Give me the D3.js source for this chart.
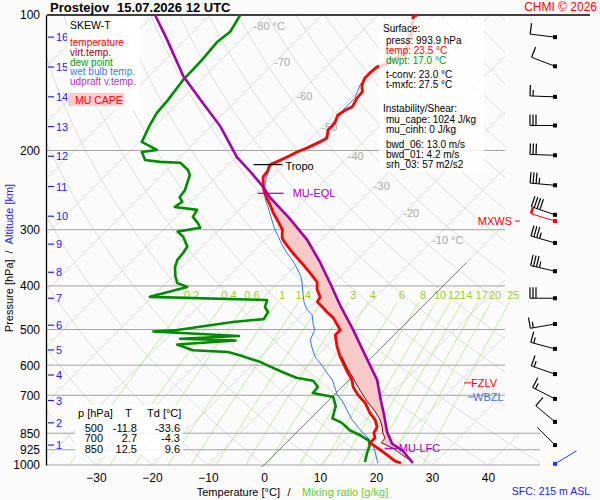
<!DOCTYPE html>
<html>
<head>
<meta charset="utf-8">
<script src="https://cdn.jsdelivr.net/npm/d3@7"></script>
<style>
  body { margin: 0; background: #fbfbfb; }
  svg { font-family: "Liberation Sans", Arial, sans-serif; }
</style>
</head>
<body>
<svg id="chart" width="600" height="500"></svg>
<script>
// ---- sounding data ----
const tempP = [100,101,108,115,121.5,126,129,130.5,134.5,138,143,148,153,160,163,167,174,180,188,191.5,197.5,201.6,207,212,215,223,229,241,249,258,264,275,288,300,313,321,338,356,374,392,408,423,434,446,457,471,501,514,547,575,606,625,647,671,699,728,766,794,823,849,871,893,917,950,980,990];
const tempT = [-53.0,-53.4,-51.25,-49.6,-48.4,-49.3,-49.8,-50.9,-51.1,-51.1,-50.4,-49.1,-48.9,-48.2,-48.9,-49.3,-48.4,-48.4,-47.1,-47.7,-48.9,-50.0,-50.9,-51.8,-52.5,-51.8,-51.6,-49.8,-48.4,-46.6,-45.4,-43.4,-40.9,-38.75,-37.3,-35.9,-32.7,-29.3,-26.1,-23.2,-21.8,-20.0,-19.6,-17.7,-16.1,-13.9,-10.5,-10.5,-8.0,-5.7,-3.0,-1.4,0.5,2.0,4.3,7.0,9.6,11.8,13.4,13.9,15.0,15.0,17.3,20.2,22.7,24.1];

const dewP = [100,109,115,126,139.5,155,165,175.6,191.5,199.5,201.6,210,212,213,221,227,236,245,254,260,267,271,281,290,297,303,311,327,338,350,363,381,394,402,423,430,446,457,474,481,501,505,517,524,529,540,556,561,571,590,600,622,640,650,671,692,706,740,788,806,837,860,882,905,940,985];
const dewT = [-84.6,-83.4,-83.9,-83.4,-83.2,-82.3,-82.0,-81.1,-79.5,-75.4,-77.7,-75.7,-72.7,-68.9,-66.25,-65,-64.1,-63.2,-62.9,-61.6,-62,-57.5,-57,-55,-53.75,-57.1,-55.2,-52.7,-52.3,-52.1,-51.25,-49.5,-48,-45.5,-50.4,-28.9,-28,-26.6,-26.1,-31.1,-39.6,-43.6,-27.5,-37.5,-27.3,-37,-33.2,-26.6,-23.75,-19.1,-17.3,-13.2,-9.8,-6.25,-4.3,-4.1,0.2,2.3,3.9,6.4,9.1,12,14.3,15.4,16.25,17.5];

const wetP = [100,108,121.5,130.5,143,153,163,174,188,197.5,207,215,223,236,249,258,268,282,298,311,324,338,350,365,381,394,415,436,452,464,486,502,527,547,575,600,622,647,674,699,725,762,794,826,849,871,893,935,975,990];
const wetT = [-53.4,-51.6,-48.75,-51.25,-50.7,-49.3,-49.3,-48.75,-47.5,-49.3,-51.25,-52.9,-51.6,-50.2,-48.4,-47.0,-45.2,-42.9,-40.4,-38.2,-36.1,-33.75,-31.6,-29.3,-27.1,-25.7,-23.75,-21.8,-20,-18.2,-16.4,-15,-14.1,-12.5,-10.2,-7.5,-5.4,-3.0,-1.1,0.6,2.9,5.5,7.7,10.2,12.0,13.75,15.4,17.5,19.3,20.0];

const virtP = [575,606,647,664,692,725,762,794,823,849,871,893,917,950,975,990];
const virtT = [-5.4,-2.7,0.9,2.3,4.6,7.3,10.4,12.7,14.3,15.5,16.8,17.0,20.0,22.9,25.2,26.0];

const parcelP = [100,113.6,137,157,177,207,223,241,254,283,316,354,398,441,501,575,647,718,774,845,897,928,990];
const parcelT = [-99.8,-93.2,-83.75,-75.5,-68.2,-59.8,-54.8,-49.8,-46.8,-39.5,-32.5,-26.25,-20.2,-15,-8.2,-1.1,5,9.3,12.5,16.1,19.1,22.1,26.25];

// levels
const tropoP = 215, eqlP = 249, lfcP = 918, fzlvP = 657, wbzlP = 706, mxwsP = 287;

// winds (kt)
const windP   = [112,130,152,176,205,239,278,321,371,426,486,552,628,713,802,903];
const windDir = [277,291,272,270,272,275,289,286,283,270,260,285,289,297,310,315];
const windSpd = [10,10,15,30,30,35,40,35,35,30,15,15,15,15,10,3];
const sfcWind = { p: 994, dir: 59, spd: 3 };
const mxwsWind = { dir: 287, spd: 5 };

// axes
const isobars = [100,200,300,400,500,600,700,850,925,1000];
const tempTicks = [-30,-20,-10,0,10,20,30,40];
const altKm = [1,2,3,4,5,6,7,8,9,10,11,12,13,14,15,16];
const altP  = [903,806,719,631,555,489,426,373,323,280,240.5,206,177,152,130.5,112];
const isoLabT = [-80,-70,-60,-50,-40,-30,-20,-10];
const isoLabP = [106,127,151,177,206,240,275,316];
const mixW = [0.2,0.4,0.6,1,1.4,2,3,4,6,8,10,12,14,17,20,25];

// table
const tabP = [500,700,850];
const tabT = ["-11.8","2.7","12.5"];
const tabTd = ["-33.6","-4.3","9.6"];

// ---- drawing ----
const svg = d3.select("#chart");
const plotL = 47, plotR = 505, plotT = 15, plotB = 465;
const FONT = "'Liberation Sans', Arial, sans-serif";

const y = d3.scaleLog().domain([100, 1000]).range([plotT, plotB]);
const t0 = d3.scaleLinear().domain([0, 10]).range([264, 320]);   // temperature at 1000 hPa
const sx = (T, p) => t0(T) + (plotB - y(p));                     // skewed x

const line = d3.line().x(d => sx(d[1], d[0])).y(d => y(d[0]));

svg.append("defs").append("clipPath").attr("id", "clip")
    .append("polygon")
    .attr("points", [[plotL, plotT], [plotR, plotT], [plotR, y(850)], [540, y(850)], [540, plotB], [plotL, plotB]].join(" "));

const grid = svg.append("g").attr("clip-path", "url(#clip)");

// isotherms
d3.range(-130, 51, 10).forEach(T => {
    grid.append("line")
        .attr("x1", sx(T, 1000)).attr("y1", y(1000))
        .attr("x2", sx(T, 100)).attr("y2", y(100))
        .attr("stroke", "#d6d6d6").attr("stroke-width", 0.8);
});
// dry adiabats
const pLev = d3.range(1000, 99, -10);
d3.range(-40, 200, 10).forEach(th => {
    let pts = pLev.map(p => [p, (th + 273.15) * Math.pow(p / 1000, 0.2857) - 273.15]);
    grid.append("path").attr("d", line(pts))
        .attr("fill", "none").attr("stroke", "#d6d6d6").attr("stroke-width", 0.8);
});

// mixing ratio lines
const mixTd = (w, p) => {
    let e = w * p / (622 + w);
    let l = Math.log(e / 6.112);
    return 243.5 * l / (17.67 - l);
};
const mixLev = d3.range(1000, 434, -5);
mixW.forEach(w => {
    svg.append("path").attr("d", line(mixLev.map(p => [p, mixTd(w, p)])))
        .attr("fill", "none").attr("stroke", "#a6ec7e").attr("stroke-width", 0.8);
    svg.append("text")
        .attr("x", sx(mixTd(w, 420), 420)).attr("y", y(420) + 4)
        .attr("text-anchor", "middle").attr("font-size", 11).attr("fill", "#9acd32")
        .text(w);
});

// isotherm labels
isoLabT.forEach((T, i) => {
    let lab = (i === 0 || i === isoLabT.length - 1) ? T + " °C" : String(T);
    svg.append("text")
        .attr("x", sx(T, isoLabP[i]) - 1).attr("y", y(isoLabP[i]) + 4)
        .attr("font-size", 11).attr("fill", "#a8a8a8").text(lab);
});

// isobars
isobars.forEach(p => {
    if (p === 100) return;
    svg.append("line")
        .attr("x1", plotL).attr("x2", p >= 850 ? 540 : plotR)
        .attr("y1", y(p)).attr("y2", y(p))
        .attr("stroke", "#a4a4a4").attr("stroke-width", 1);
});
svg.append("line").attr("x1", plotL).attr("x2", 590).attr("y1", y(100)).attr("y2", y(100))
    .attr("stroke", "#000").attr("stroke-width", 1.3);

// 0 degC isotherm
svg.append("line")
    .attr("x1", sx(0, 1010)).attr("y1", y(1010))
    .attr("x2", sx(0, 355)).attr("y2", y(355))
    .attr("stroke", "#555").attr("stroke-width", 0.7);

// CAPE area
const capeUp = d3.zip(parcelP, parcelT).filter(d => d[0] >= eqlP && d[0] <= lfcP);
const envPts = d3.zip(tempP, tempT).filter(d => d[0] >= eqlP && d[0] < 575)
    .concat(d3.zip(virtP, virtT).filter(d => d[0] <= lfcP));
const capePoly = capeUp.concat(envPts.slice().reverse());
svg.append("path").attr("d", line(capePoly) + "Z")
    .attr("fill", "#f7c9c9").attr("stroke", "none");

// profiles
svg.append("path").attr("d", line(d3.zip(wetP, wetT)))
    .attr("fill", "none").attr("stroke", "#2f78e4").attr("stroke-width", 1);
svg.append("path").attr("d", line(d3.zip(dewP, dewT)))
    .attr("fill", "none").attr("stroke", "#008a00").attr("stroke-width", 2.6).attr("stroke-linejoin", "round");
svg.append("path").attr("d", line(d3.zip(tempP, tempT)))
    .attr("fill", "none").attr("stroke", "#ff0000").attr("stroke-width", 2.8).attr("stroke-linejoin", "round");
svg.append("path").attr("d", line(d3.zip(virtP, virtT)))
    .attr("fill", "none").attr("stroke", "#8b0000").attr("stroke-width", 1);
svg.append("path").attr("d", line(d3.zip(parcelP, parcelT)))
    .attr("fill", "none").attr("stroke", "#a000a8").attr("stroke-width", 2.6);

// level markers
const tropX = sx(-52.5, tropoP);
svg.append("line").attr("x1", tropX - 17).attr("x2", tropX + 12).attr("y1", y(tropoP)).attr("y2", y(tropoP))
    .attr("stroke", "#000").attr("stroke-width", 1.2);
svg.append("text").attr("x", tropX + 15).attr("y", y(tropoP) + 5).attr("font-size", 11).text("Tropo");

const eqlX = sx(-48.4, eqlP);
svg.append("line").attr("x1", eqlX - 7).attr("x2", eqlX + 19).attr("y1", y(eqlP)).attr("y2", y(eqlP))
    .attr("stroke", "#a000a8").attr("stroke-width", 1.2);
svg.append("text").attr("x", eqlX + 28).attr("y", y(eqlP) + 4).attr("font-size", 11)
    .attr("fill", "#a000a8").text("MU-EQL");

const lfcX = sx(20.0, lfcP);
svg.append("line").attr("x1", lfcX - 8).attr("x2", lfcX + 5).attr("y1", y(lfcP)).attr("y2", y(lfcP))
    .attr("stroke", "#a000a8").attr("stroke-width", 1.2);
svg.append("text").attr("x", lfcX + 6).attr("y", y(lfcP) + 4).attr("font-size", 11)
    .attr("fill", "#a000a8").text("MU-LFC");

// FZLV, WBZL, MXWS
svg.append("line").attr("x1", 464).attr("x2", 471).attr("y1", y(fzlvP)).attr("y2", y(fzlvP)).attr("stroke", "#ff0000");
svg.append("text").attr("x", 471).attr("y", y(fzlvP) + 4).attr("font-size", 11).attr("fill", "#ff0000").text("FZLV");
svg.append("line").attr("x1", 468).attr("x2", 474).attr("y1", y(wbzlP)).attr("y2", y(wbzlP)).attr("stroke", "#2f78e4");
svg.append("text").attr("x", 473).attr("y", y(wbzlP) + 4).attr("font-size", 11).attr("fill", "#2f78e4").text("WBZL");
svg.append("text").attr("x", 512).attr("y", y(mxwsP) + 4).attr("text-anchor", "end").attr("font-size", 11)
    .attr("fill", "#ff0000").text("MXWS");
svg.append("line").attr("x1", 515).attr("x2", 520).attr("y1", y(mxwsP)).attr("y2", y(mxwsP)).attr("stroke", "#ff0000");

// pressure axis
const pAxis = svg.append("g").attr("transform", `translate(${plotL - 1},0)`)
    .call(d3.axisLeft(y).tickValues(isobars).tickFormat(d3.format("d")).tickSize(0).tickPadding(6));
pAxis.attr("font-size", 12).attr("font-family", FONT);
pAxis.select(".domain").attr("stroke", "#000").attr("stroke-width", 1.3);
pAxis.selectAll("text").attr("fill", "#000");

// altitude ticks
altKm.forEach((k, i) => {
    svg.append("line").attr("x1", 48).attr("x2", 54).attr("y1", y(altP[i])).attr("y2", y(altP[i]))
        .attr("stroke", "#2222ee").attr("stroke-width", 1.2);
    svg.append("text").attr("x", 56).attr("y", y(altP[i]) + 4).attr("font-size", 11)
        .attr("fill", "#2222ee").text(k);
});

// temperature axis
const tAxis = svg.append("g").attr("transform", `translate(0,${plotB})`)
    .call(d3.axisBottom(t0).tickValues(tempTicks).tickSize(0).tickPadding(8));
tAxis.attr("font-size", 12).attr("font-family", FONT);
tAxis.select(".domain").remove();
tAxis.selectAll("text").attr("fill", "#000");

// axis titles
svg.append("text").attr("x", 280).attr("y", 496).attr("text-anchor", "end").attr("font-size", 11).text("Temperature [°C]");
svg.append("text").attr("x", 289).attr("y", 496).attr("text-anchor", "middle").attr("font-size", 11).text("/");
svg.append("text").attr("x", 302).attr("y", 496).attr("font-size", 11).attr("fill", "#66cc33").text("Mixing ratio [g/kg]");
svg.append("text").attr("x", 590).attr("y", 495).attr("text-anchor", "end").attr("font-size", 10.5)
    .attr("fill", "#2222ee").text("SFC: 215 m ASL");

const yt = svg.append("text").attr("transform", "translate(13,258) rotate(-90)")
    .attr("text-anchor", "middle").attr("font-size", 11);
yt.append("tspan").attr("fill", "#000").text("Pressure [hPa]");
yt.append("tspan").attr("fill", "#000").attr("dx", 6).text("/");
yt.append("tspan").attr("fill", "#2222ee").attr("dx", 6).text("Altitude [km]");

// title
svg.append("text").attr("x", 50).attr("y", 12).attr("font-size", 13).attr("font-weight", "bold").text("Prostejov");
svg.append("text").attr("x", 117).attr("y", 12).attr("font-size", 13).attr("font-weight", "bold").text("15.07.2026 12 UTC");
svg.append("text").attr("x", 597).attr("y", 11).attr("text-anchor", "end").attr("font-size", 12)
    .attr("fill", "#ff0000").text("CHMI © 2026");

// legend box
svg.append("rect").attr("x", 67).attr("y", 17).attr("width", 73).attr("height", 93)
    .attr("fill", "#fff").attr("opacity", 0.85);
const legend = [
    ["temperature", "#ff0000"],
    ["virt.temp.", "#a00000"],
    ["dew point", "#009a00"],
    ["wet bulb temp.", "#3080f0"],
    ["udpraft v.temp.", "#b030c0"]
];
svg.append("text").attr("x", 70).attr("y", 29).attr("font-size", 10.5).text("SKEW-T");
legend.forEach((d, i) => {
    svg.append("text").attr("x", 70).attr("y", 46 + i * 9.8).attr("font-size", 10)
        .attr("fill", d[1]).text(d[0]);
});
svg.append("rect").attr("x", 68).attr("y", 93).attr("width", 56).attr("height", 13).attr("fill", "#ffcccc");
svg.append("text").attr("x", 75).attr("y", 104).attr("font-size", 10.5).attr("fill", "#ff0000").text("MU CAPE");

// surface / instability box
svg.append("rect").attr("x", 379).attr("y", 19).attr("width", 105).attr("height", 153)
    .attr("fill", "#fff").attr("opacity", 0.8);
const info = [
    ["Surface:", "#000", 383, 31.5],
    ["press: 993.9 hPa", "#000", 386, 43.5],
    ["temp: 23.5 °C", "#ff0000", 386, 53.5],
    ["dwpt: 17.0 °C", "#009a00", 386, 63.5],
    ["t-conv: 23.0 °C", "#000", 386, 77.5],
    ["t-mxfc: 27.5 °C", "#000", 386, 87.5],
    ["Instability/Shear:", "#000", 383, 111.5],
    ["mu_cape: 1024 J/kg", "#000", 386, 122.5],
    ["mu_cinh: 0 J/kg", "#000", 386, 132.5],
    ["bwd_06: 13.0 m/s", "#000", 386, 147.5],
    ["bwd_01: 4.2 m/s", "#000", 386, 157.5],
    ["srh_03: 57 m2/s2", "#000", 386, 168]
];
info.forEach(d => {
    svg.append("text").attr("x", d[2]).attr("y", d[3]).attr("font-size", 10).attr("fill", d[1]).text(d[0]);
});

// table box
svg.append("rect").attr("x", 75).attr("y", 405).attr("width", 108).attr("height", 50)
    .attr("fill", "#fff").attr("opacity", 0.85);
svg.append("text").attr("x", 78).attr("y", 417).attr("font-size", 11).text("p [hPa]");
svg.append("text").attr("x", 125).attr("y", 417).attr("font-size", 11).text("T");
svg.append("text").attr("x", 147).attr("y", 417).attr("font-size", 11).text("Td [°C]");
tabP.forEach((p, i) => {
    let yy = 431.5 + i * 10.5;
    svg.append("text").attr("x", 103).attr("y", yy).attr("text-anchor", "end").attr("font-size", 11).text(p);
    svg.append("text").attr("x", 137).attr("y", yy).attr("text-anchor", "end").attr("font-size", 11).text(tabT[i]);
    svg.append("text").attr("x", 180).attr("y", yy).attr("text-anchor", "end").attr("font-size", 11).text(tabTd[i]);
});

// wind barbs
const barbX = 555;
const barbs = svg.append("g");
function barb(cx, cy, dir, spd, col, bw) {
    const a = dir * Math.PI / 180, ux = Math.sin(a), uy = -Math.cos(a);
    const px = -uy, py = ux;
    const L = 25, B = 11, S = 3;
    const tx = cx + ux * L, ty = cy + uy * L;
    barbs.append("line").attr("x1", cx).attr("y1", cy).attr("x2", tx).attr("y2", ty)
        .attr("stroke", col).attr("stroke-width", 1);
    let k = 0, rest = spd;
    const seg = (len) => {
        let bx = tx - ux * k * S, by = ty - uy * k * S;
        barbs.append("line").attr("x1", bx).attr("y1", by)
            .attr("x2", bx + px * len).attr("y2", by + py * len)
            .attr("stroke", col).attr("stroke-width", bw);
        k++;
    };
    while (rest >= 10) { seg(B); rest -= 10; }
    if (rest >= 5) seg(B * 0.55);
    barbs.append("rect").attr("x", cx - 2).attr("y", cy - 2).attr("width", 4).attr("height", 4).attr("fill", col);
}
windP.forEach((p, i) => barb(barbX, y(p), windDir[i], windSpd[i], "#000", 1.2));
barb(barbX, y(mxwsP), mxwsWind.dir, mxwsWind.spd, "#ff0000", 2.5);
barb(barbX, y(sfcWind.p), sfcWind.dir, sfcWind.spd, "#1a3cff", 1.2);
</script>
</body>
</html>
